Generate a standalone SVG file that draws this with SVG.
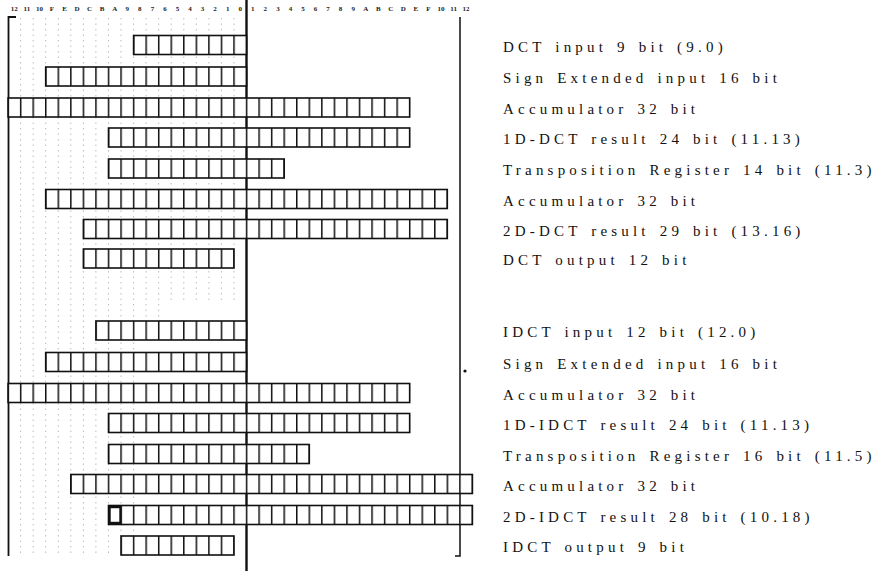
<svg xmlns="http://www.w3.org/2000/svg" width="874" height="571" viewBox="0 0 874 571">
<defs>
<pattern id="cells" patternUnits="userSpaceOnUse" x="245.8" y="0" width="12.55" height="571">
<rect width="12.55" height="571" fill="#fff"/>
<rect x="0" y="0" width="1.5" height="571" fill="#111"/>
</pattern>
</defs>
<style>
.reg{fill:url(#cells);stroke:#111;stroke-width:1.6}
.lbl{font-family:"Liberation Serif","Times New Roman",serif;font-size:15px;letter-spacing:4.2px;word-spacing:2px;fill:#111}
.hdr{font-family:"Liberation Serif","Times New Roman",serif;font-size:7px;font-weight:bold;fill:#222;text-anchor:middle}
.guide{stroke:#888;stroke-width:1;stroke-dasharray:1.5 4;opacity:0.55}
.frame{stroke:#111;fill:none}
</style>
<rect width="874" height="571" fill="#fff"/>
<g id="guides">
<path class="guide" d="M20.6 18V555M33.2 18V555M45.7 18V555M58.3 18V555M70.8 18V555M83.4 18V555M95.9 18V555M108.5 18V555M121 18V555M133.6 18V555M146.1 18V330M158.7 18V330M171.2 18V300M183.8 18V300M196.3 18V300M208.9 18V300M221.4 18V300M234 18V300"/>
</g>
<g id="header">
<text class="hdr" y="11"><tspan x="14.3">12</tspan><tspan x="26.9">11</tspan><tspan x="39.4">10</tspan><tspan x="52">F</tspan><tspan x="64.5">E</tspan><tspan x="77.1">D</tspan><tspan x="89.6">C</tspan><tspan x="102.2">B</tspan><tspan x="114.7">A</tspan><tspan x="127.3">9</tspan><tspan x="139.8">8</tspan><tspan x="152.4">7</tspan><tspan x="164.9">6</tspan><tspan x="177.5">5</tspan><tspan x="190">4</tspan><tspan x="202.6">3</tspan><tspan x="215.1">2</tspan><tspan x="227.7">1</tspan><tspan x="240.2">0</tspan></text>
<text class="hdr" y="11"><tspan x="252.8">1</tspan><tspan x="265.3">2</tspan><tspan x="277.9">3</tspan><tspan x="290.4">4</tspan><tspan x="303">5</tspan><tspan x="315.5">6</tspan><tspan x="328.1">7</tspan><tspan x="340.6">8</tspan><tspan x="353.2">9</tspan><tspan x="365.7">A</tspan><tspan x="378.3">B</tspan><tspan x="390.8">C</tspan><tspan x="403.4">D</tspan><tspan x="415.9">E</tspan><tspan x="428.5">F</tspan><tspan x="441">10</tspan><tspan x="453.6">11</tspan><tspan x="466.1">12</tspan></text>
</g>
<g id="frame">
<path class="frame" stroke-width="1.8" d="M16 17H8.5V556"/>
<path class="frame" stroke-width="1.5" d="M460 17V556H455"/>
<path class="frame" stroke-width="2.4" d="M246.5 0V571"/>
<circle cx="465" cy="371" r="1.6" fill="#111"/>
</g>
<g id="connectors"></g>
<g id="r1"><rect class="reg" x="133.6" y="35.5" width="112.9" height="19"/><text class="lbl" x="503" y="52">DCT input 9 bit (9.0)</text></g>
<g id="r2"><rect class="reg" x="45.7" y="67" width="200.8" height="19"/><text class="lbl" x="503" y="83">Sign Extended input 16 bit</text></g>
<g id="r3"><rect class="reg" x="8.1" y="98" width="401.6" height="19"/><text class="lbl" x="503" y="114">Accumulator 32 bit</text></g>
<g id="r4"><rect class="reg" x="108.5" y="128" width="301.2" height="19"/><text class="lbl" x="503" y="144">1D-DCT result 24 bit (11.13)</text></g>
<g id="r5"><rect class="reg" x="108.5" y="159" width="175.7" height="19"/><text class="lbl" x="503" y="175">Transposition Register 14 bit (11.3)</text></g>
<g id="r6"><rect class="reg" x="45.7" y="189.5" width="401.6" height="19"/><text class="lbl" x="503" y="205.5">Accumulator 32 bit</text></g>
<g id="r7"><rect class="reg" x="83.4" y="219.5" width="363.9" height="19"/><text class="lbl" x="503" y="235.5">2D-DCT result 29 bit (13.16)</text></g>
<g id="r8"><rect class="reg" x="83.4" y="249" width="150.6" height="19"/><text class="lbl" x="503" y="265">DCT output 12 bit</text></g>
<g id="r9"><rect class="reg" x="95.9" y="321" width="150.6" height="19"/><text class="lbl" x="503" y="337">IDCT input 12 bit (12.0)</text></g>
<g id="r10"><rect class="reg" x="45.7" y="352.5" width="200.8" height="19"/><text class="lbl" x="503" y="368.5">Sign Extended input 16 bit</text></g>
<g id="r11"><rect class="reg" x="8.1" y="383.5" width="401.6" height="19"/><text class="lbl" x="503" y="399.5">Accumulator 32 bit</text></g>
<g id="r12"><rect class="reg" x="108.5" y="413.5" width="301.2" height="19"/><text class="lbl" x="503" y="429.5">1D-IDCT result 24 bit (11.13)</text></g>
<g id="r13"><rect class="reg" x="108.5" y="444.5" width="200.8" height="19"/><text class="lbl" x="503" y="460.5">Transposition Register 16 bit (11.5)</text></g>
<g id="r14"><rect class="reg" x="70.8" y="474.5" width="401.6" height="19"/><text class="lbl" x="503" y="490.5">Accumulator 32 bit</text></g>
<g id="r15"><rect class="reg" x="108.5" y="505.5" width="363.9" height="19"/><rect x="109.5" y="507" width="11" height="16" fill="none" stroke="#111" stroke-width="2.4"/><text class="lbl" x="503" y="521.5">2D-IDCT result 28 bit (10.18)</text></g>
<g id="r16"><rect class="reg" x="121" y="536" width="113" height="19"/><text class="lbl" x="503" y="552">IDCT output 9 bit</text></g>
</svg>
